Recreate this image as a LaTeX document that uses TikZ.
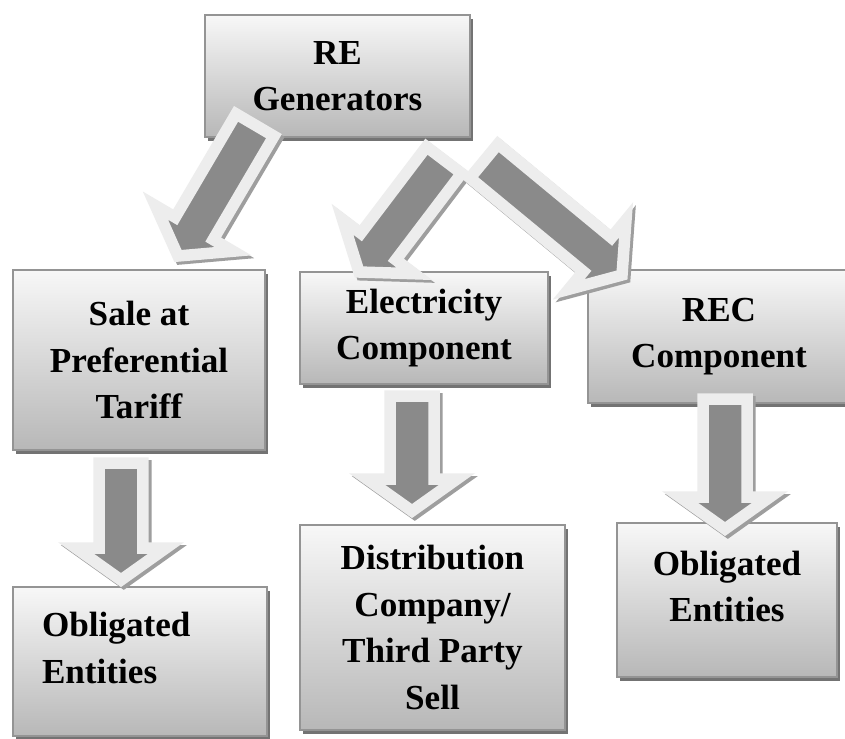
\documentclass[tikz,border=0pt]{standalone}
\usepackage{fontspec}
\setmainfont{Liberation Serif}
\usetikzlibrary{calc,shadows}
\tikzset{box/.style={rectangle, draw=black!42, line width=1.2pt, top color=black!3, bottom color=black!28,
  drop shadow={shadow xshift=1.8pt, shadow yshift=-2.2pt, fill=black!55, opacity=1},
  align=center, font=\fontsize{20}{26.5}\selectfont\bfseries}}
\tikzset{arrowbody/.style={fill=black!46, draw=black!7, line width=0.23cm, line join=miter},
  arrowshade/.style={fill=black!38, draw=black!38, line width=0.23cm, line join=miter}}
\newcommand{\blockarrow}[2]{%
  \coordinate (hb) at ($(#2)!0.64cm!(#1)$);
  \foreach \sty/\off in {arrowshade/1.6pt, arrowbody/0pt}
    \filldraw[\sty, transform canvas={xshift=\off, yshift=-\off}]
      ($(#1)!0.44cm!90:(#2)$) -- ($(hb)!0.44cm!90:(#2)$) -- ($(hb)!0.9cm!90:(#2)$) -- (#2)
      -- ($(hb)!0.9cm!-90:(#2)$) -- ($(hb)!0.44cm!-90:(#2)$) -- ($(#1)!0.44cm!-90:(#2)$) -- cycle;
}

\begin{document}
\begin{tikzpicture}[x=0.02cm, y=-0.02cm]
\fill[white] (0,0) rectangle (845,738);
\useasboundingbox (0,0) rectangle (845,738);
% boxes
\node[box, minimum width=5.3cm, minimum height=2.44cm] (gen) at (337.5,76) {RE\\Generators};
\node[box, minimum width=5.04cm, minimum height=3.6cm] (tariff) at (139,360) {Sale at\\Preferential\\Tariff};
\node[box, minimum width=4.96cm, minimum height=2.24cm] (elec) at (424,328) {Electricity\\Component};
\node[box, minimum width=5.24cm, minimum height=2.66cm] (rec) at (719,336.5) {REC\\Component};
\node[box, minimum width=5.08cm, minimum height=2.98cm, text width=3.92cm, align=left, text depth=42pt] (oblA) at (140,661.5) {Obligated\\Entities};
\node[box, minimum width=5.3cm, minimum height=4.1cm] (disco) at (432.5,627.5) {Distribution\\Company/\\Third Party\\Sell};
\node[box, minimum width=4.4cm, minimum height=3.08cm, text width=3.6cm, align=center, text depth=42pt] (oblB) at (727,600) {Obligated\\Entities};
% arrow ends
\coordinate (gen-a) at (255,125);  \coordinate (tariff-in) at (178,256);
\coordinate (gen-b) at (444,160);  \coordinate (elec-in) at (359,272);
\coordinate (gen-c) at (484,161);  \coordinate (rec-in) at (622,275);
\coordinate (tariff-out) at (121,463); \coordinate (oblA-in) at (121,580);
\coordinate (elec-out) at (412,396);   \coordinate (disco-in) at (412,511);
\coordinate (rec-out) at (725,399);    \coordinate (oblB-in) at (725,529);
% arrows
\blockarrow{gen-a}{tariff-in}
\blockarrow{gen-b}{elec-in}
\blockarrow{gen-c}{rec-in}
\blockarrow{tariff-out}{oblA-in}
\blockarrow{elec-out}{disco-in}
\blockarrow{rec-out}{oblB-in}
\end{tikzpicture}
\end{document}
